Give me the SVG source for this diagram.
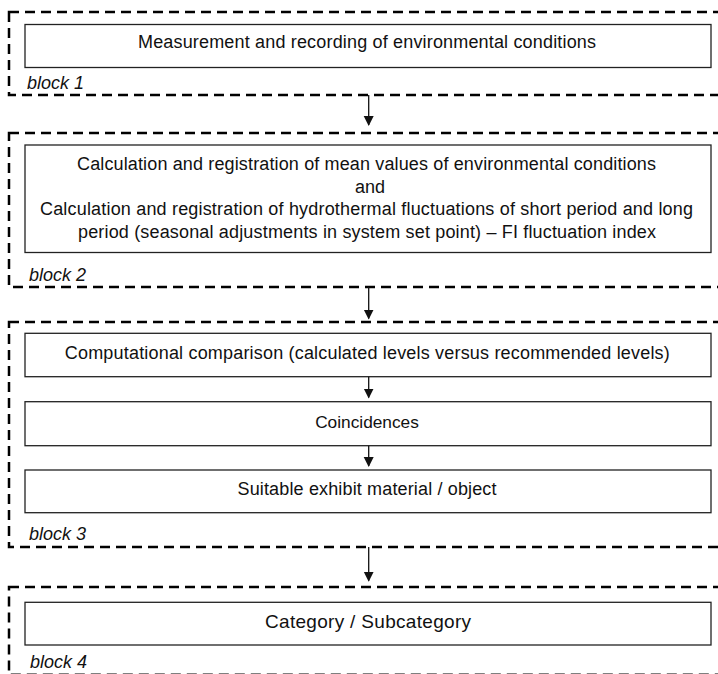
<svg xmlns="http://www.w3.org/2000/svg" width="718" height="674" viewBox="0 0 718 674">
<style>
.blk{fill:none;stroke:#000;stroke-width:2.5;stroke-dasharray:10 6}
.box{fill:#fff;stroke:#222;stroke-width:1.3}
.t{font-family:"Liberation Sans",Arial,sans-serif;font-size:18px;fill:#111;text-anchor:middle}
.lbl{font-family:"Liberation Sans",Arial,sans-serif;font-size:18px;font-style:italic;fill:#111}
.ar{stroke:#111;stroke-width:1.3;fill:none;marker-end:url(#ah)}
</style>
<defs>
<marker id="ah" markerUnits="userSpaceOnUse" markerWidth="10" markerHeight="11" refX="9" refY="5" orient="auto" viewBox="0 0 10 10">
<path d="M0,0 L10,5 L0,10 Z" fill="#111"/>
</marker>
</defs>
<g id="block1">
<rect class="blk" x="9" y="12" width="730" height="83"/>
<text class="lbl" x="27" y="89">block 1</text>
</g>
<g id="block2">
<rect class="blk" x="9" y="133" width="730" height="154"/>
<text class="lbl" x="29" y="281">block 2</text>
</g>
<g id="block3">
<rect class="blk" x="9" y="322" width="730" height="225"/>
<text class="lbl" x="29" y="540">block 3</text>
</g>
<g id="block4">
<rect class="blk" x="9" y="587" width="730" height="87.8"/>
<text class="lbl" x="30" y="668">block 4</text>
</g>
<g id="n1">
<rect class="box" x="25" y="24.5" width="686" height="43"/>
<text class="t" x="367" y="48" textLength="458" lengthAdjust="spacing">Measurement and recording of environmental conditions</text>
</g>
<g id="n2">
<rect class="box" x="25" y="145" width="686" height="107.5"/>
<text class="t" x="366.5" y="170" textLength="579" lengthAdjust="spacing">Calculation and registration of mean values of environmental conditions</text>
<text class="t" x="370" y="192.5">and</text>
<text class="t" x="366.5" y="215" textLength="653" lengthAdjust="spacing">Calculation and registration of hydrothermal fluctuations of short period and long</text>
<text class="t" x="367" y="237.5" textLength="578" lengthAdjust="spacing">period (seasonal adjustments in system set point) – FI fluctuation index</text>
</g>
<g id="n3">
<rect class="box" x="25" y="333.3" width="686" height="43.4"/>
<text class="t" x="367.3" y="359" textLength="605" lengthAdjust="spacing">Computational comparison (calculated levels versus recommended levels)</text>
</g>
<g id="n4">
<rect class="box" x="25" y="401.7" width="686" height="44"/>
<text class="t" x="367" y="427.5" style="font-size:17.3px">Coincidences</text>
</g>
<g id="n5">
<rect class="box" x="25" y="470" width="686" height="42.7"/>
<text class="t" x="367" y="495" textLength="259" lengthAdjust="spacing">Suitable exhibit material / object</text>
</g>
<g id="n6">
<rect class="box" x="25" y="602.3" width="686" height="42.7"/>
<text class="t" x="368" y="628.3" textLength="206" lengthAdjust="spacing" style="font-size:19px">Category / Subcategory</text>
</g>
<g id="connectors">
<line class="ar" x1="368.7" y1="95" x2="368.7" y2="125"/>
<line class="ar" x1="368.7" y1="287" x2="368.7" y2="318.5"/>
<line class="ar" x1="368.7" y1="376.7" x2="368.7" y2="397.5"/>
<line class="ar" x1="368.7" y1="445.7" x2="368.7" y2="466"/>
<line class="ar" x1="368.7" y1="547" x2="368.7" y2="580.7"/>
</g>
</svg>
